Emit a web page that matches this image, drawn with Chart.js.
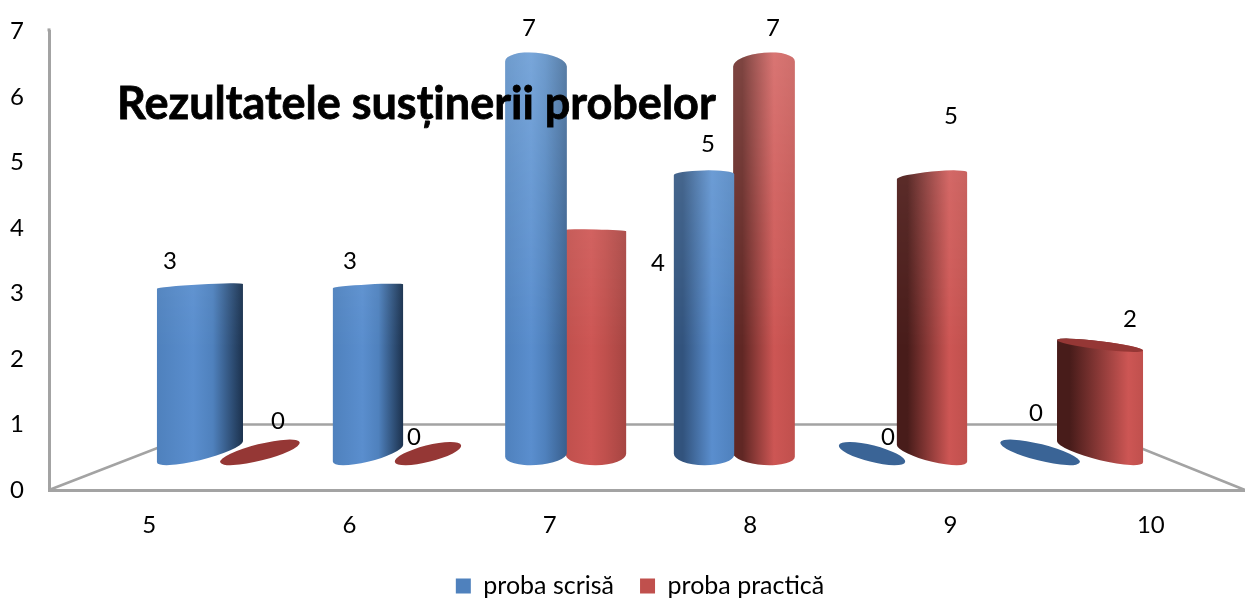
<!DOCTYPE html>
<html>
<head>
<meta charset="utf-8">
<title>Rezultatele susținerii probelor</title>
<script src="https://cdn.jsdelivr.net/npm/chart.js@4"></script>
<style>
  html, body { margin: 0; padding: 0; background: #fff; overflow: hidden; }
  #wrap { width: 1245px; height: 598px; overflow: hidden; }
</style>
</head>
<body>
<div id="wrap"><canvas id="chart" width="1280" height="598"></canvas></div>
<script>
// chart data
const categories = ['5', '6', '7', '8', '9', '10'];
const probaScrisa = [3, 3, 7, 5, 0, 0];
const probaPractica = [0, 0, 4, 7, 5, 2];
const yTicks = [0, 1, 2, 3, 4, 5, 6, 7];
const chartTitle = 'Rezultatele susținerii probelor';

// where each value label sits relative to the top of its bar
const scrisaLabelShift = [[-30, -27], [-18, -27], [-7, -24], [4, -26], [16, -28], [-4, -52]];
const practicaLabelShift = [[18, -44], [-14, -28], [62, 34], [9, -24], [19, -54], [30, -28]];

const LABEL_FONT = '24px Lato';
const GRID_GREY = '#a3a3a3';

// fake 3D settings
const EYE_Y = 240;        // height where the cylinder tops look flat
const MIDDLE_X = 650;     // bars get wider away from this
const LIGHT_X = 600;      // highlight moves away from this

const paints = [
  { base: [79, 129, 189], light: [90, 142, 206], dark: [28, 50, 78], flat: '#3a6496' },
  { base: [192, 80, 77], light: [205, 86, 84], dark: [72, 28, 26], flat: '#953735' }
];

function mix(a, b, t) {
  return 'rgb(' + a.map((v, i) => Math.round(v + (b[i] - v) * t)).join(',') + ')';
}

// ellipse shape of a cylinder end at height y
function endShape(cx, y, width) {
  const dx = cx - MIDDLE_X;
  const far = Math.min(1, Math.abs(dx) / 220);
  let ry, deg;
  if (y > EYE_Y) {
    ry = (y - EYE_Y) * (0.055 - 0.017 * far);
    deg = (y - EYE_Y) * 0.065 * Math.sign(dx) * far * far;
  } else {
    const near = Math.min(1, Math.pow(Math.abs(dx) / 115, 2));
    ry = (EYE_Y - y) * 0.06;
    deg = -5.5 * Math.sign(dx) * near;
  }
  ry = Math.max(1, ry);
  const rot = deg * Math.PI / 180;
  const rx = width / 2 / Math.cos(rot);
  const start = Math.atan2(-ry * Math.sin(rot), rx * Math.cos(rot));
  const reach = Math.sqrt(Math.pow(rx * Math.sin(rot), 2) + Math.pow(ry * Math.cos(rot), 2));
  return { rx, ry, rot, start, reach };
}

function drawCylinder(ctx, bar, paint, value) {
  const cx = bar.x;
  const dx = (cx - MIDDLE_X) / 450;
  const width = bar.width * (1 + 0.4333 * dx * dx);

  const low = endShape(cx, bar.base - 8, width);
  const lowY = bar.base - low.reach;

  if (value === 0) {
    ctx.beginPath();
    ctx.ellipse(cx, lowY, low.rx, low.ry, low.rot, 0, Math.PI * 2);
    ctx.fillStyle = paint.flat;
    ctx.fill();
    return;
  }

  const top = endShape(cx, bar.y, width);
  const topY = bar.y > EYE_Y ? bar.y - 2 : bar.y + top.reach;

  const body = new Path2D();
  body.ellipse(cx, lowY, low.rx, low.ry, low.rot, low.start, low.start + Math.PI);
  body.ellipse(cx, topY, top.rx, top.ry, top.rot, top.start + Math.PI, top.start + Math.PI * 2);
  body.closePath();

  // dark on the side facing the middle, highlight on the other side
  const d = cx - LIGHT_X;
  const s = 0.2 + 0.8 * Math.min(1, Math.abs(d) / 220);
  const edge = mix(paint.base, paint.dark, s);
  const g = ctx.createLinearGradient(cx - width / 2, 0, cx + width / 2, 0);
  if (d > 0) {
    const lightAt = 0.58 + 0.25 * Math.min(1, d / 500);
    g.addColorStop(0, edge);
    g.addColorStop(0.15, edge);
    g.addColorStop(lightAt, mix(paint.light, paint.light, 0));
    g.addColorStop(1, mix(paint.base, paint.base, 0));
  } else {
    g.addColorStop(0, mix(paint.base, paint.base, 0));
    g.addColorStop(0.42, mix(paint.light, paint.light, 0));
    g.addColorStop(0.65, mix(paint.base, paint.base, 0));
    g.addColorStop(1, edge);
  }
  ctx.fillStyle = g;
  ctx.fill(body);

  // tall bars are brighter near the top
  const v = ctx.createLinearGradient(0, 50, 0, 350);
  v.addColorStop(0, 'rgba(255,255,255,0.5)');
  v.addColorStop(1, 'rgba(255,255,255,0)');
  ctx.globalCompositeOperation = 'soft-light';
  ctx.fillStyle = v;
  ctx.fill(body);
  ctx.globalCompositeOperation = 'source-over';

  // the top face only shows on the short bars
  if (topY > 300) {
    ctx.beginPath();
    ctx.ellipse(cx, topY, top.rx, top.ry, top.rot, 0, Math.PI * 2);
    ctx.fillStyle = paint.flat;
    ctx.fill();
  }
}

const cylinderPlugin = {
  id: 'cylinders',
  beforeDatasetsDraw(chart) {
    // floor and back wall
    const ctx = chart.ctx;
    const area = chart.chartArea;
    const backY = chart.scales.y.getPixelForValue(1);
    const backLeft = area.left + 169;
    const backRight = area.left + 1033;
    ctx.save();
    ctx.strokeStyle = GRID_GREY;
    ctx.lineWidth = 2.5;
    ctx.beginPath();
    ctx.moveTo(area.left, area.bottom);
    ctx.lineTo(backLeft, backY);
    ctx.lineTo(backRight, backY);
    ctx.lineTo(area.left + 1196, area.bottom);
    ctx.stroke();
    ctx.lineWidth = 3;
    ctx.beginPath();
    ctx.moveTo(area.left, area.top - 3);
    ctx.lineTo(area.left, area.top);
    ctx.stroke();
    ctx.restore();
  },
  beforeDatasetDraw(chart, args) {
    // the bars stay Chart.js elements, only the look is replaced
    const ctx = chart.ctx;
    const meta = args.meta;
    ctx.save();
    meta.data.forEach((bar, i) => {
      drawCylinder(ctx, bar, paints[args.index], chart.data.datasets[args.index].data[i].y);
    });
    ctx.restore();
    return false;
  },
  afterDatasetsDraw(chart) {
    const ctx = chart.ctx;
    ctx.save();
    ctx.fillStyle = '#000';
    ctx.textAlign = 'center';
    ctx.textBaseline = 'middle';
    ctx.font = LABEL_FONT;
    [scrisaLabelShift, practicaLabelShift].forEach((shifts, d) => {
      chart.getDatasetMeta(d).data.forEach((bar, i) => {
        const value = chart.data.datasets[d].data[i].y;
        ctx.fillText(String(value), bar.x + shifts[i][0], bar.y + shifts[i][1]);
      });
    });
    ctx.font = 'bold 45px Lato';
    ctx.textAlign = 'left';
    ctx.strokeStyle = '#000';
    ctx.lineWidth = 0.8;
    ctx.fillText(chartTitle, 117, 104);
    ctx.strokeText(chartTitle, 117, 104);
    ctx.restore();
  }
};

const ctx = document.getElementById('chart').getContext('2d');

new Chart(ctx, {
  type: 'bar',
  data: {
    labels: categories,
    datasets: [
      {
        label: 'proba scrisă',
        data: probaScrisa.map((v, i) => ({ x: i, y: v })),
        backgroundColor: '#4f81bd',
        xAxisID: 'xBars',
        yAxisID: 'yBars',
        categoryPercentage: 0.714,
        barPercentage: 1
      },
      {
        label: 'proba practică',
        data: probaPractica.map((v, i) => ({ x: i, y: v })),
        backgroundColor: '#c0504d',
        xAxisID: 'xBars',
        yAxisID: 'yBars',
        categoryPercentage: 0.714,
        barPercentage: 1
      }
    ]
  },
  options: {
    responsive: false,
    animation: false,
    layout: { autoPadding: false, padding: { top: 28, bottom: -10.5, left: 0, right: 0 } },
    plugins: {
      tooltip: { enabled: false },
      title: { display: false },
      legend: {
        position: 'bottom',
        labels: {
          boxWidth: 15,
          boxHeight: 15,
          padding: 26,
          color: '#000',
          font: { family: 'Lato', size: 25 }
        }
      }
    },
    scales: {
      x: {
        type: 'category',
        position: 'bottom',
        offset: true,
        grid: { display: false },
        border: { color: GRID_GREY, width: 3 },
        ticks: { color: '#000', padding: 13, font: { family: 'Lato', size: 24 } },
        afterFit(scale) { scale.height = 57.5; }
      },
      y: {
        type: 'linear',
        position: 'left',
        min: 0,
        max: yTicks[yTicks.length - 1],
        grid: { display: false },
        border: { color: GRID_GREY, width: 3 },
        ticks: { color: '#000', stepSize: 1, padding: 17, font: { family: 'Lato', size: 24 } },
        afterFit(scale) { scale.width = 49; }
      },
      // hidden scales the cylinders sit on, the picture's bars don't line up with the printed axes
      xBars: { type: 'linear', axis: 'x', position: 'bottom', display: false, offset: false, min: -1.077, max: 6.077 },
      yBars: {
        type: 'linear',
        axis: 'y',
        position: 'right',
        min: -0.421,
        max: 7.357,
        grid: { display: false },
        border: { display: false },
        ticks: { display: false },
        afterFit(scale) { scale.width = 29; }
      }
    }
  },
  plugins: [cylinderPlugin]
});
</script>
</body>
</html>
